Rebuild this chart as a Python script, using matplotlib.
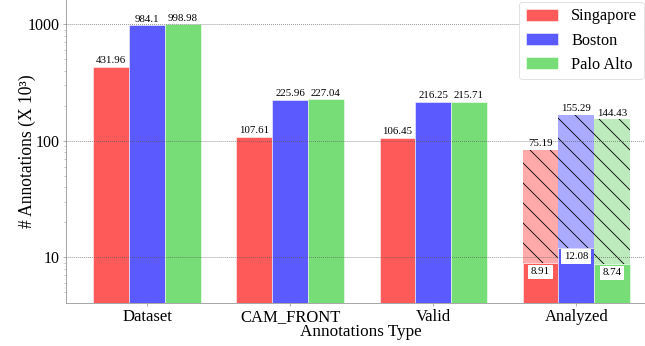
import numpy as np
import matplotlib
matplotlib.use("Agg")
import matplotlib.pyplot as plt

plt.rcParams['font.family'] = ['Liberation Serif', 'DejaVu Serif']
plt.rcParams['hatch.linewidth'] = 1.0

# annotation counts (x 10^3) per annotation type and city
types = ['Dataset', 'CAM_FRONT', 'Valid', 'Analyzed']
cities = ['Singapore', 'Boston', 'Palo Alto']
singapore = [431.96, 107.61, 106.45, 8.91]
boston = [984.1, 225.96, 216.25, 12.08]
palo_alto = [998.98, 227.04, 215.71, 8.74]
# part of the dataset that was not analyzed, stacked on top of the analyzed bars
remaining = [75.19, 155.29, 144.43]

solid = ['#FF5A5A', '#5A5AFF', '#77DD77']
light = ['#FFAAAA', '#AAAAFF', '#BDEBBD']

fig = plt.figure(figsize=(645 / 60, 346 / 60), dpi=60)
ax = fig.add_axes([66 / 645, 43 / 346, 590 / 645, 303 / 346])
ax.set_yscale('log')

x = np.arange(len(types))
width = 0.25
series = [singapore, boston, palo_alto]

for i, (name, vals) in enumerate(zip(cities, series)):
    xs = x + (i - 1) * width
    bars = ax.bar(xs, vals, width, color=solid[i], edgecolor='white',
                  linewidth=0.6, label=name, zorder=2)
    for b, v in zip(bars[:3], vals[:3]):
        ax.annotate(f'{v:g}', (b.get_x() + b.get_width() / 2, v),
                    xytext=(0, 2), textcoords='offset points',
                    ha='center', va='bottom', fontsize=13)
    # analyzed bar: label inside with a white box
    v = vals[3]
    ax.text(xs[3], v * 0.84, f'{v:g}', ha='center', va='center', fontsize=13,
            bbox=dict(boxstyle='square,pad=0.25', fc='white', ec='none'), zorder=4)
    # hatched remainder on top
    ax.bar(xs[3], remaining[i], width, bottom=v, color=light[i],
           edgecolor='black', linewidth=0, hatch='\\', zorder=2)
    ax.annotate(f'{remaining[i]:g}', (xs[3], v + remaining[i]),
                xytext=(0, 2), textcoords='offset points',
                ha='center', va='bottom', fontsize=13)

ax.set_ylim(4.05, 1620)
ax.set_xlim(-0.566, 3.557)
ax.set_yticks([10, 100, 1000])
ax.set_yticklabels(['10', '100', '1000'])
ax.set_xticks(x)
ax.set_xticklabels(types)
ax.tick_params(axis='y', which='major', labelsize=19)
ax.tick_params(axis='x', which='major', labelsize=20)
ax.tick_params(axis='both', which='major', colors='#888888',
               labelcolor='black', length=4, width=0.8)
ax.tick_params(axis='y', which='minor', length=2.5, width=0.6, colors='#888888')

ax.grid(True, axis='y', which='major', linestyle=':', color='#555555', linewidth=0.9)
ax.set_axisbelow(False)

for s in ['top', 'right']:
    ax.spines[s].set_visible(False)
for s in ['left', 'bottom']:
    ax.spines[s].set_color('#999999')
    ax.spines[s].set_linewidth(1.0)

ax.set_xlabel('Annotations Type', fontsize=20.5, labelpad=-1.5)
ax.set_ylabel('# Annotations (X 10³)', fontsize=21, labelpad=-9.5)

handles, labels = ax.get_legend_handles_labels()
fig.legend(handles[:3], labels[:3], loc='upper left',
           bbox_to_anchor=(519 / 645, 1 - 2 / 346), fontsize=19.5,
           borderaxespad=0, frameon=True, fancybox=True,
           edgecolor='#dddddd', framealpha=1)

fig.savefig('out.png', dpi=60)
